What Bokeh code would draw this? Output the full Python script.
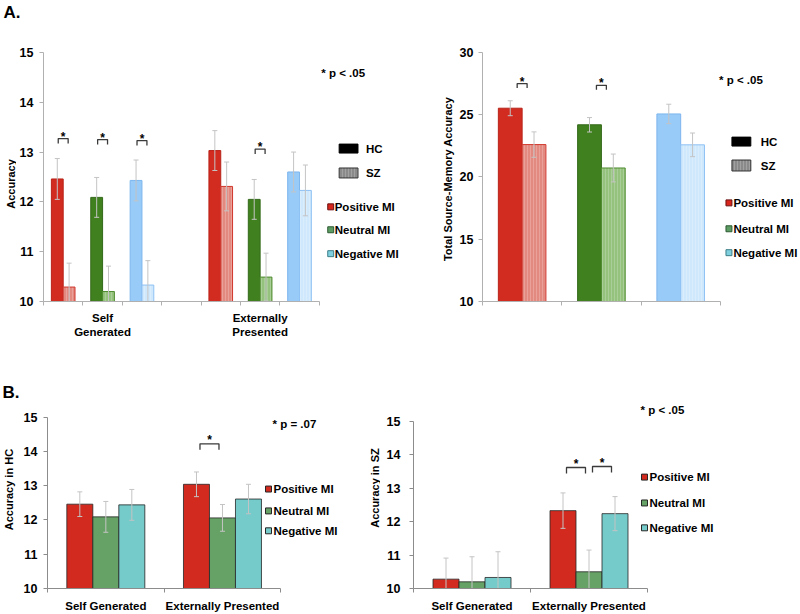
import math
from bokeh.plotting import figure
from bokeh.models import Range1d, FixedTicker, Label, ColumnDataSource
from bokeh.layouts import row, column
from bokeh.embed import file_html
from bokeh.resources import INLINE
from bokeh.core.properties import value

FONT = "Liberation Sans"

# ---------------- data ----------------
emotions = ["Positive MI", "Neutral MI", "Negative MI"]
sources = ["Self Generated", "Externally Presented"]
source_labels_a = ["Self\nGenerated", "Externally\nPresented"]
groups = ["HC", "SZ"]

# Panel A left: accuracy [source][emotion]
a_hc = [[12.46, 12.09, 12.43], [13.03, 12.05, 12.60]]
a_hc_err = [[0.41, 0.40, 0.41], [0.40, 0.40, 0.40]]
a_sz = [[10.29, 10.20, 10.33], [12.31, 10.49, 12.23]]
a_sz_err = [[0.48, 0.51, 0.49], [0.49, 0.48, 0.51]]
a_sig = [(0, 0), (0, 1), (0, 2), (1, 1)]          # (source, emotion) HC vs SZ
a_sig_y = [13.27, 13.25, 13.23, 13.06]

# Panel A right: total source-memory accuracy [emotion]
tot_hc = [25.52, 24.19, 25.06]
tot_hc_err = [0.60, 0.58, 0.78]
tot_sz = [22.60, 20.72, 22.58]
tot_sz_err = [1.02, 1.12, 0.95]
tot_sig = [0, 1]
tot_sig_y = [27.50, 27.36]

# Panel B left: accuracy in HC [source][emotion]
b_hc = [[12.46, 12.09, 12.44], [13.04, 12.06, 12.61]]
b_hc_err = [[0.36, 0.45, 0.45], [0.36, 0.39, 0.43]]
b_hc_sig = [(1, 0, 1)]                             # (source, emotion a, emotion b)
b_hc_sig_y = [14.22]

# Panel B right: accuracy in SZ [source][emotion]
b_sz = [[10.28, 10.20, 10.33], [12.33, 10.50, 12.24]]
b_sz_err = [[0.63, 0.75, 0.77], [0.53, 0.65, 0.51]]
b_sz_sig = [(1, 0, 1), (1, 1, 2)]
b_sz_sig_y = [13.62, 13.65]

# ---------------- styles ----------------
A_HC_FILL = ["#d22b20", "#41801f", "#98cbf7"]
A_HC_LINE = ["#b92319", "#34691a", "#7eb6ee"]
A_SZ_FILL = ["#e38a80", "#95c27d", "#cfe8fc"]
A_SZ_LINE = ["#d0372c", "#4f8b2f", "#8ec1f4"]
B_FILL = ["#d32a1f", "#66a266", "#75caca"]
B_LINE = "#262626"
LEG_FILL = ["#d8261c", "#5d9c63", "#7fd0df"]
LEG_LINE = ["#6a1010", "#2d5a32", "#3d7d88"]
ERR = "#c4c4c4"
BRK = "#3a3a3a"
TICK_SIZE = "12.5px"
HATCH = dict(hatch_pattern="vertical_line", hatch_color="white", hatch_alpha=0.2,
             hatch_scale=3, hatch_weight=1)


def label(x, y, txt, size, align="left", angle=0.0):
    return Label(x=x, y=y, text=txt, text_font=FONT, text_font_size=f"{size}px",
                 text_font_style="bold", text_color="black", text_align=align,
                 text_baseline="middle", angle=angle)


class Strip:
    """Blank figure whose data coordinates are page pixels.
    bb = bottom border (plots in one row share their bottom border)."""
    def __init__(self, left, top, width, height, bb=0):
        self.fbottom = top + height - bb
        p = figure(width=width, height=height, output_backend="svg", toolbar_location=None,
                   x_range=Range1d(left, left + width), y_range=Range1d(0, height - bb),
                   x_axis_location=None, y_axis_location=None,
                   min_border_left=0, min_border_right=0, min_border_top=0,
                   min_border_bottom=bb)
        p.xgrid.visible = False
        p.ygrid.visible = False
        p.outline_line_color = None
        p.background_fill_color = "white"
        p.border_fill_color = "white"
        self.p = p

    def yv(self, Y):
        return self.fbottom - Y

    def text(self, X, Y, txt, size, align="left"):
        self.p.add_layout(label(X, self.yv(Y), txt, size, align))

    def vtext(self, X, Y, txt, size):
        self.p.text(x=[X], y=[self.yv(Y)], text=[txt], angle=math.pi / 2,
                    text_align="center", text_baseline="middle",
                    text_font=value(FONT), text_font_size=value(f"{size}px"),
                    text_font_style="bold", text_color="black")


class Panel:
    def __init__(self, left, top, width, height, frame_left, frame_bottom, sx, sy, ybase):
        self.frame_left = frame_left
        self.frame_bottom = frame_bottom
        self.sx = sx
        self.sy = sy
        self.ybase = ybase
        mbl = frame_left - left
        mbb = top + height - frame_bottom
        fw = width - mbl
        fh = frame_bottom - top
        p = figure(width=width, height=height, output_backend="svg", toolbar_location=None,
                   x_range=Range1d(0, fw / sx), y_range=Range1d(ybase, ybase + fh / sy),
                   min_border_left=mbl, min_border_right=0, min_border_top=0,
                   min_border_bottom=mbb)
        p.xgrid.visible = False
        p.ygrid.visible = False
        p.outline_line_color = None
        p.background_fill_color = "white"
        p.border_fill_color = "white"
        self.p = p

    def dx(self, X):
        return (X - self.frame_left) / self.sx

    def dy(self, Y):
        return self.ybase + (self.frame_bottom - Y) / self.sy

    def text(self, X, Y, txt, size, align="left"):
        self.p.add_layout(label(self.dx(X), self.dy(Y), txt, size, align))

    def box(self, X, Y, w, h, fill, line, hatch=False):
        kw = HATCH if hatch else {}
        self.p.quad(left=[self.dx(X - w / 2)], right=[self.dx(X + w / 2)],
                    bottom=[self.dy(Y + h / 2)], top=[self.dy(Y - h / 2)],
                    fill_color=fill, line_color=line, line_width=1, **kw)

    def axes(self, yticks, xmajor, xlabels, xminor, axis_color, ystandoff, xstandoff):
        ya = self.p.yaxis[0]
        ya.ticker = FixedTicker(ticks=yticks, minor_ticks=[])
        ya.bounds = (yticks[0], yticks[-1])
        ya.axis_line_color = axis_color
        ya.major_tick_line_color = axis_color
        ya.major_tick_out = 4
        ya.major_tick_in = 0
        ya.minor_tick_line_color = None
        ya.major_label_standoff = ystandoff
        ya.major_label_text_font = FONT
        ya.major_label_text_font_size = TICK_SIZE
        ya.major_label_text_font_style = "bold"
        ya.major_label_text_color = "black"
        xa = self.p.xaxis[0]
        xa.ticker = FixedTicker(ticks=xmajor, minor_ticks=xminor)
        xa.bounds = (xminor[0], xminor[-1])
        xa.axis_line_color = axis_color
        xa.major_tick_line_color = None
        xa.major_tick_out = 0
        xa.major_tick_in = 0
        xa.minor_tick_line_color = axis_color
        xa.minor_tick_out = 4
        xa.minor_tick_in = 0
        xa.major_label_standoff = xstandoff
        xa.major_label_overrides = {float(t): l for t, l in zip(xmajor, xlabels)}
        xa.major_label_text_font = FONT
        xa.major_label_text_font_size = "11.5px"
        xa.major_label_text_font_style = "bold"
        xa.major_label_text_color = "black"

    def bars(self, xs, tops, width, fills, lines, lw=1.0, hatch=False):
        src = ColumnDataSource(dict(x=xs, top=tops, fill=fills, line=lines))
        kw = HATCH if hatch else {}
        self.p.vbar(x="x", top="top", bottom=self.ybase, width=width, source=src,
                    fill_color="fill", line_color="line", line_width=lw, **kw)

    def errors(self, xs, vals, errs):
        lo = [v - e for v, e in zip(vals, errs)]
        hi = [v + e for v, e in zip(vals, errs)]
        self.p.segment(x0=xs, y0=lo, x1=xs, y1=hi, line_color=ERR, line_width=1)
        self.p.scatter(x=xs + xs, y=hi + lo, marker="dash", size=5, line_color=ERR,
                       line_width=1)

    def bracket(self, xa, xb, yline, leg_px, star_px):
        leg = leg_px / self.sy
        self.p.multi_line(xs=[[xa, xa, xb, xb]], ys=[[yline - leg, yline, yline, yline - leg]],
                          line_color=BRK, line_width=1.3)
        self.p.add_layout(Label(x=(xa + xb) / 2, y=yline + star_px / self.sy, text="*",
                                text_font=FONT, text_font_size="12px",
                                text_font_style="bold", text_color="black",
                                text_align="center", text_baseline="middle"))


# ============ top strip: "A." ============
SA = Strip(0, 0, 800, 32)
SA.text(3, 12, "A.", 17)

# ============ Panel A left ============
A_BB = 38   # shared bottom border of row A
YA1 = Strip(0, 32, 16, 308, A_BB)
YA1.vtext(10, 184, "Accuracy", 11)

A1 = Panel(16, 32, 404, 308, 40, 340 - A_BB, 39.7, 50.0, 10)
A1.axes([10, 11, 12, 13, 14, 15], [1.5, 5.5], source_labels_a,
        [0, 1, 2, 3, 4, 5, 6, 7], "#b0b0b0", 6, 6)
hx, hv, he, hf, hl = [], [], [], [], []
zx, zv, ze, zf, zl = [], [], [], [], []
for s in range(len(sources)):
    for e in range(len(emotions)):
        c = s * (len(emotions) + 1) + e + 0.5
        hx.append(c - 0.15); hv.append(a_hc[s][e]); he.append(a_hc_err[s][e])
        hf.append(A_HC_FILL[e]); hl.append(A_HC_LINE[e])
        zx.append(c + 0.15); zv.append(a_sz[s][e]); ze.append(a_sz_err[s][e])
        zf.append(A_SZ_FILL[e]); zl.append(A_SZ_LINE[e])
A1.bars(hx, hv, 0.3, hf, hl)
A1.bars(zx, zv, 0.3, zf, zl, hatch=True)
A1.errors(hx, hv, he)
A1.errors(zx, zv, ze)
for (s, e), yb in zip(a_sig, a_sig_y):
    c = s * (len(emotions) + 1) + e + 0.5
    hw = 5 / A1.sx
    A1.bracket(c - hw, c + hw, yb, 5, 2)
A1.text(320, 73, "* p < .05", 11.5)
A1.box(347.5, 148.5, 19, 9, "#000000", "#000000")
A1.text(365, 148.5, groups[0], 11.5)
A1.box(347.5, 173, 19, 10, "#8a8a8a", "#333333", hatch=True)
A1.text(365, 173, groups[1], 11.5)
for i, yy in enumerate([207, 230, 254]):
    A1.box(329.5, yy, 6, 6, LEG_FILL[i], LEG_LINE[i])
    A1.text(333.5, yy, emotions[i], 11.5)

# ============ Panel A right ============
YA2 = Strip(420, 32, 36, 308, A_BB)
YA2.vtext(447, 179, "Total Source-Memory Accuracy", 11)

A2 = Panel(456, 32, 344, 308, 480, 340 - A_BB, 79.77, 12.5, 10)
A2.axes([10, 15, 20, 25, 30], [], [], [0, 1, 2, 3], "#b0b0b0", 5, 6)
hx = [e + 0.5 - 0.15 for e in range(len(emotions))]
zx = [e + 0.5 + 0.15 for e in range(len(emotions))]
A2.bars(hx, tot_hc, 0.3, A_HC_FILL, A_HC_LINE)
A2.bars(zx, tot_sz, 0.3, A_SZ_FILL, A_SZ_LINE, hatch=True)
A2.errors(hx, tot_hc, tot_hc_err)
A2.errors(zx, tot_sz, tot_sz_err)
for e, yb in zip(tot_sig, tot_sig_y):
    c = e + 0.5
    hw = 5 / A2.sx
    A2.bracket(c - hw, c + hw, yb, 4.5, 2)
A2.text(718, 80, "* p < .05", 11.5)
A2.box(740.5, 141.5, 19, 9, "#000000", "#000000")
A2.text(760, 141.5, groups[0], 11.5)
A2.box(740.5, 165.5, 19, 11, "#8a8a8a", "#333333", hatch=True)
A2.text(760, 165.5, groups[1], 11.5)
for i, yy in enumerate([203, 229, 253]):
    A2.box(728, yy, 6, 6, LEG_FILL[i], LEG_LINE[i])
    A2.text(732.5, yy, emotions[i], 11.5)

# ============ middle strip: "B." ============
SB = Strip(0, 340, 800, 63)
SB.text(2, 391.5, "B.", 17)


# ============ Panel B ============
def b_panel(P, vals, errs, sig, sig_y):
    bw = 26 / P.sx
    xs, vs, es, fs = [], [], [], []
    for s in range(len(sources)):
        for e in range(len(emotions)):
            xs.append(s + 0.5 + (e - 1) * bw)
            vs.append(vals[s][e]); es.append(errs[s][e]); fs.append(B_FILL[e])
    P.bars(xs, vs, bw, fs, [B_LINE] * len(xs), lw=0.8)
    P.errors(xs, vs, es)
    hw = 9.5 / P.sx
    for (s, ea, eb), yb in zip(sig, sig_y):
        mid = s + 0.5 + ((ea + eb) / 2 - 1) * bw
        P.bracket(mid - hw, mid + hw, yb, 6, 3.5)


B_BB = 25   # shared bottom border of row B
YB1 = Strip(0, 403, 17, 211, B_BB)
YB1.vtext(8, 488, "Accuracy in  HC", 11)

B1 = Panel(17, 403, 350, 211, 47, 614 - B_BB, 116.65, 34.46, 10)
B1.axes([10, 11, 12, 13, 14, 15], [0.5, 1.5], sources, [0, 1, 2], "#8c8c8c", 6, 7)
b_panel(B1, b_hc, b_hc_err, b_hc_sig, b_hc_sig_y)
B1.text(272, 424, "* p = .07", 11.5)
for i, yy in enumerate([489, 511, 531]):
    B1.box(268, yy, 6, 6, B_FILL[i], B_LINE)
    B1.text(273, yy, emotions[i], 11.5)

YB2 = Strip(367, 403, 13, 211, B_BB)
YB2.vtext(374, 488, "Accuracy in SZ", 11)

B2 = Panel(380, 403, 420, 211, 413, 614 - B_BB, 117.0, 33.6, 10)
B2.axes([10, 11, 12, 13, 14, 15], [0.5, 1.5], sources, [0, 1, 2], "#8c8c8c", 9, 7)
b_panel(B2, b_sz, b_sz_err, b_sz_sig, b_sz_sig_y)
B2.text(640, 410, "* p < .05", 11.5)
for i, yy in enumerate([477, 503, 528]):
    B2.box(644, yy, 6, 6, B_FILL[i], B_LINE)
    B2.text(649, yy, emotions[i], 11.5)

layout = column(SA.p,
                row(YA1.p, A1.p, YA2.p, A2.p),
                SB.p,
                row(YB1.p, B1.p, YB2.p, B2.p))
open("out.html", "w").write(file_html(layout, INLINE))
